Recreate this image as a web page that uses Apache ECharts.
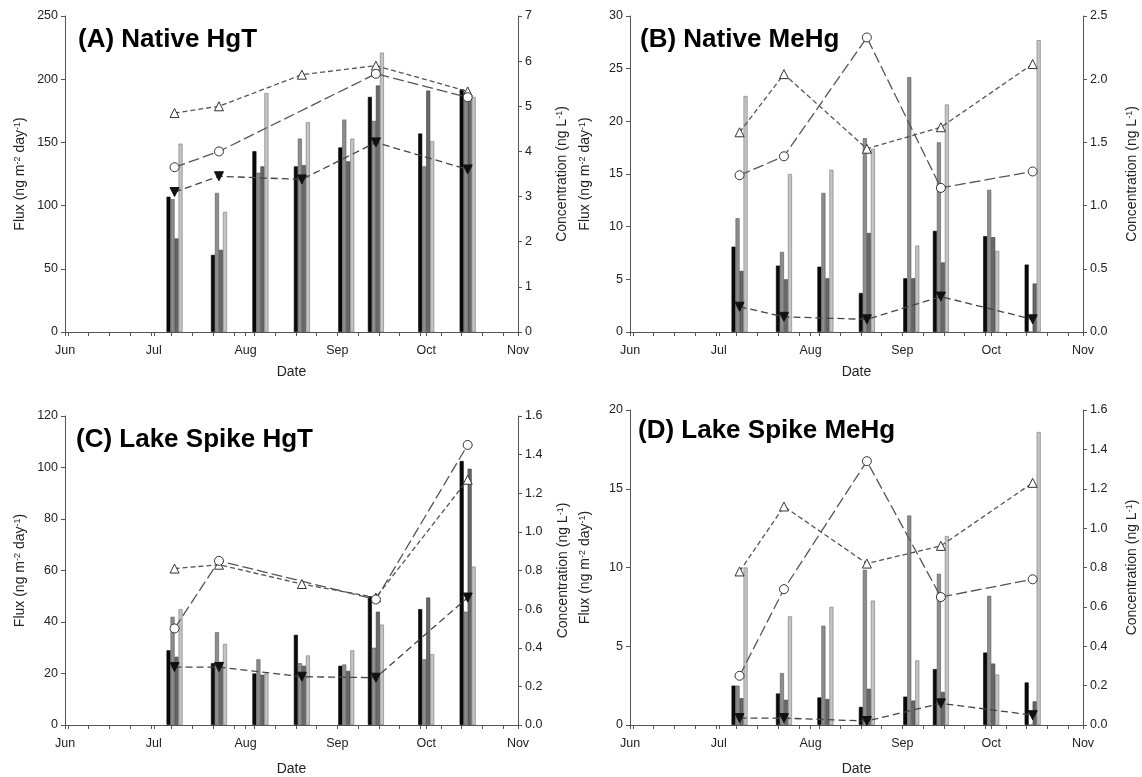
<!DOCTYPE html>
<html>
<head>
<meta charset="utf-8">
<script src="https://cdn.jsdelivr.net/npm/echarts@6/dist/echarts.min.js"></script>
<style>
  html, body { margin: 0; background: #fff; }
  #chart { width: 1142px; height: 777px; }
</style>
</head>
<body>
<div id="chart"></div>
<script>
// sampling dates
var barDates = ['2008-07-08', '2008-07-23', '2008-08-06', '2008-08-20', '2008-09-04', '2008-09-14', '2008-10-01', '2008-10-15'];
var lineDates = ['2008-07-08', '2008-07-23', '2008-08-20', '2008-09-14', '2008-10-15'];
var monthNames = ['Jan', 'Feb', 'Mar', 'Apr', 'May', 'Jun', 'Jul', 'Aug', 'Sep', 'Oct', 'Nov', 'Dec'];

// (A) Native HgT
var aBlack = [107, 61, 143, 131, 146, 186, 157, 192];
var aMid = [105, 110, 126, 153, 168, 167, 131, 190];
var aDark = [74, 65, 131, 132, 135, 195, 191, 188];
var aLight = [149, 95, 189, 166, 153, 221, 151, 186];
var aTriUp = [4.85, 5.0, 5.7, 5.9, 5.33];
var aCircle = [3.65, 4.0, null, 5.72, 5.2];
var aTriDown = [3.1, 3.45, 3.38, 4.2, 3.6];

// (B) Native MeHg
var bBlack = [8.1, 6.3, 6.2, 3.7, 5.1, 9.6, 9.1, 6.4];
var bMid = [10.8, 7.6, 13.2, 18.4, 24.2, 18.0, 13.5, 0];
var bDark = [5.8, 5.0, 5.1, 9.4, 5.1, 6.6, 9.0, 4.6];
var bLight = [22.4, 15.0, 15.4, 17.4, 8.2, 21.6, 7.7, 27.7];
var bTriUp = [1.58, 2.04, 1.45, 1.62, 2.12];
var bCircle = [1.24, 1.39, 2.33, 1.14, 1.27];
var bTriDown = [0.2, 0.12, 0.1, 0.28, 0.1];

// (C) Lake Spike HgT
var cBlack = [29, 24, 20, 35, 23, 50, 45, 102.5];
var cMid = [42, 36, 25.5, 24, 23.5, 30, 25.5, 44];
var cDark = [26.5, 24.5, 19.5, 23, 21, 44, 49.5, 99.5];
var cLight = [45, 31.5, 20, 27, 29, 39, 27.5, 61.5];
var cTriUp = [0.81, 0.83, 0.73, 0.66, 1.27];
var cCircle = [0.5, 0.85, null, 0.65, 1.45];
var cTriDown = [0.3, 0.3, 0.25, 0.245, 0.66];

// (D) Lake Spike MeHg
var dBlack = [2.5, 2.0, 1.75, 1.15, 1.8, 3.55, 4.6, 2.7];
var dMid = [2.5, 3.3, 6.3, 9.85, 13.3, 9.6, 8.2, 0];
var dDark = [1.7, 1.6, 1.65, 2.3, 1.55, 2.1, 3.9, 1.5];
var dLight = [10.0, 6.9, 7.5, 7.9, 4.1, 12.0, 3.2, 18.6];
var dTriUp = [0.78, 1.11, 0.82, 0.91, 1.23];
var dCircle = [0.25, 0.69, 1.34, 0.65, 0.74];
var dTriDown = [0.035, 0.035, 0.02, 0.11, 0.05];

var FONT = '"Liberation Sans", Arial, sans-serif';
var AXIS_COLOR = '#555';

function day(s) {
  var p = s.split('-');
  return new Date(+p[0], +p[1] - 1, +p[2]).getTime();
}
function pairs(dates, vals) {
  return dates.map(function (d, i) { return [day(d), vals[i]]; });
}

var xMin = day('2008-06-01');
var xMax = day('2008-11-01');
var monthTicks = ['2008-06-01', '2008-07-01', '2008-08-01', '2008-09-01', '2008-10-01', '2008-11-01'].map(day);
// weekly minor ticks
var weekTicks = [];
for (var t = day('2008-06-02'); t < xMax; t += 7 * 86400000) weekTicks.push(t);
var allTicks = monthTicks.concat(weekTicks).sort(function (a, b) { return a - b; });

var panels = [
  { title: '(A) Native HgT', grid: { left: 65, top: 16, width: 453, height: 316 }, titlePos: [78, 27],
    yMax: 250, yStep: 50, rMax: 7, rStep: 1, rDec: 0, xNameGap: 33, rNameGap: 37,
    bars: [aBlack, aMid, aDark, aLight], triUp: aTriUp, circle: aCircle, triDown: aTriDown },
  { title: '(B) Native MeHg', grid: { left: 630, top: 16, width: 453, height: 316 }, titlePos: [640, 27],
    yMax: 30, yStep: 5, rMax: 2.5, rStep: 0.5, rDec: 1, xNameGap: 33, rNameGap: 42,
    bars: [bBlack, bMid, bDark, bLight], triUp: bTriUp, circle: bCircle, triDown: bTriDown },
  { title: '(C) Lake Spike HgT', grid: { left: 65, top: 416, width: 453, height: 310 }, titlePos: [76, 427],
    yMax: 120, yStep: 20, rMax: 1.6, rStep: 0.2, rDec: 1, xNameGap: 37, rNameGap: 38,
    bars: [cBlack, cMid, cDark, cLight], triUp: cTriUp, circle: cCircle, triDown: cTriDown },
  { title: '(D) Lake Spike MeHg', grid: { left: 630, top: 410, width: 453, height: 316 }, titlePos: [638, 418],
    yMax: 20, yStep: 5, rMax: 1.6, rStep: 0.2, rDec: 1, xNameGap: 37, rNameGap: 42,
    bars: [dBlack, dMid, dDark, dLight], triUp: dTriUp, circle: dCircle, triDown: dTriDown }
];

var barStyles = [
  { color: '#0a0a0a', borderColor: '#000' },
  { color: '#8e8e8e', borderColor: '#555' },
  { color: '#686868', borderColor: '#3a3a3a' },
  { color: '#c4c4c4', borderColor: '#777' }
];

var supRich = { sup: { fontSize: 9, fontFamily: FONT, color: '#222', verticalAlign: 'top', lineHeight: 10 } };

var titles = [], grids = [], xAxes = [], yAxes = [], series = [];

panels.forEach(function (p, i) {
  titles.push({
    text: p.title, left: p.titlePos[0], top: p.titlePos[1], padding: 0,
    textStyle: { fontFamily: FONT, fontSize: 26, fontWeight: 'bold', color: '#000' }
  });
  grids.push(p.grid);
  xAxes.push({
    type: 'value', gridIndex: i, min: xMin, max: xMax,
    name: 'Date', nameLocation: 'middle', nameGap: p.xNameGap,
    nameTextStyle: { fontFamily: FONT, fontSize: 14, color: '#222' },
    axisLine: { lineStyle: { color: AXIS_COLOR, width: 1 } },
    axisTick: { show: true, customValues: allTicks, length: 4, lineStyle: { color: AXIS_COLOR } },
    axisLabel: {
      customValues: monthTicks, margin: 12, fontFamily: FONT, fontSize: 12.5, color: '#222',
      formatter: function (v) { return monthNames[new Date(v).getMonth()]; }
    },
    splitLine: { show: false }
  });
  yAxes.push({
    type: 'value', gridIndex: i, position: 'left', min: 0, max: p.yMax, interval: p.yStep,
    name: 'Flux (ng m{sup|-2} day{sup|-1})', nameLocation: 'middle', nameRotate: 90, nameGap: 38,
    nameTextStyle: { fontFamily: FONT, fontSize: 14, color: '#222', rich: supRich },
    axisLine: { show: true, lineStyle: { color: AXIS_COLOR, width: 1 } },
    axisTick: { show: true, length: 4, lineStyle: { color: AXIS_COLOR } },
    axisLabel: { margin: 7, fontFamily: FONT, fontSize: 12.5, color: '#222' },
    splitLine: { show: false }
  });
  yAxes.push({
    type: 'value', gridIndex: i, position: 'right', min: 0, max: p.rMax, interval: p.rStep,
    name: 'Concentration (ng L{sup|-1})', nameLocation: 'middle', nameRotate: 90, nameGap: p.rNameGap,
    nameTextStyle: { fontFamily: FONT, fontSize: 14, color: '#222', rich: supRich },
    axisLine: { show: true, lineStyle: { color: AXIS_COLOR, width: 1 } },
    axisTick: { show: true, length: 4, lineStyle: { color: AXIS_COLOR } },
    axisLabel: {
      margin: 7, fontFamily: FONT, fontSize: 12.5, color: '#222',
      formatter: function (v) { return v.toFixed(p.rDec); }
    },
    splitLine: { show: false }
  });

  p.bars.forEach(function (vals, k) {
    series.push({
      type: 'bar', xAxisIndex: i, yAxisIndex: 2 * i,
      data: pairs(barDates, vals),
      barWidth: 4, barGap: '0%',
      itemStyle: { color: barStyles[k].color, borderColor: barStyles[k].borderColor, borderWidth: 0.6 },
      z: 2
    });
  });

  series.push({
    type: 'line', xAxisIndex: i, yAxisIndex: 2 * i + 1,
    data: pairs(lineDates, p.triUp), connectNulls: true,
    symbol: 'triangle', symbolSize: 9,
    itemStyle: { color: '#fff', borderColor: '#333', borderWidth: 1 },
    lineStyle: { color: '#555', width: 1.3, type: [5, 3] },
    z: 5
  });
  series.push({
    type: 'line', xAxisIndex: i, yAxisIndex: 2 * i + 1,
    data: pairs(lineDates, p.circle), connectNulls: true,
    symbol: 'circle', symbolSize: 9,
    itemStyle: { color: '#fff', borderColor: '#333', borderWidth: 1 },
    lineStyle: { color: '#555', width: 1.3, type: [11, 4] },
    z: 5
  });
  series.push({
    type: 'line', xAxisIndex: i, yAxisIndex: 2 * i + 1,
    data: pairs(lineDates, p.triDown), connectNulls: true,
    symbol: 'triangle', symbolRotate: 180, symbolSize: 9,
    itemStyle: { color: '#111', borderColor: '#111', borderWidth: 1 },
    lineStyle: { color: '#444', width: 1.3, type: [7, 4] },
    z: 6
  });
});

var chart = echarts.init(document.getElementById('chart'), null, { renderer: 'canvas' });
chart.setOption({
  animation: false,
  backgroundColor: '#fff',
  title: titles,
  grid: grids,
  xAxis: xAxes,
  yAxis: yAxes,
  series: series
});
</script>
</body>
</html>
